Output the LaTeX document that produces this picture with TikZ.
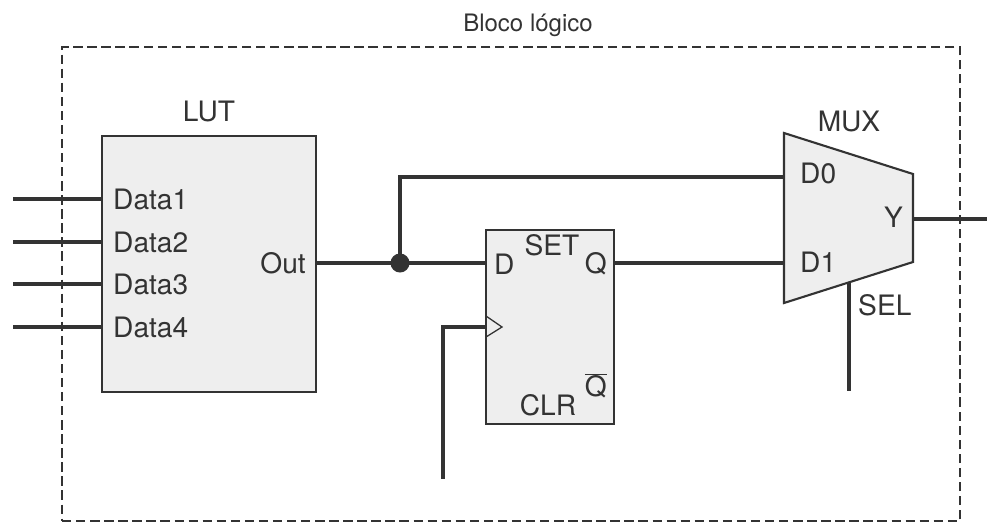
\documentclass[tikz,border=0pt]{standalone}
\usepackage{fontspec}
\setmainfont{TeX Gyre Heros}
\definecolor{inkgray}{HTML}{333333}
\definecolor{boxgray}{HTML}{EEEEEE}
\usetikzlibrary{calc}

\begin{document}
\begin{tikzpicture}[x=0.03cm, y=-0.03cm, font=\fontsize{24}{26}\selectfont, text=inkgray]
        \tikzstyle{every node}=[inner sep=0pt]
        \tikzstyle{block}=[draw=inkgray, fill=boxgray, line width=1.8pt, anchor=north west, minimum width=0pt]
        \tikzstyle{wire}=[draw=inkgray, line width=2.8pt]
        \useasboundingbox (0,0) rectangle (987,523);
        \node [draw=inkgray, dash pattern=on 8pt off 4pt, line width=1.3pt, anchor=north west, minimum width=898*0.03cm, minimum height=474*0.03cm] (bloco) at (61.3,46.3) {};
        \node [font=\fontsize{20.5}{24}\selectfont] (titulo) at (528,25) {Bloco lógico};
        % LUT
        \node [block, minimum width=214*0.03cm, minimum height=256*0.03cm] (lut) at (101.3,135.3) {};
        \node (lutname) at (209,111) {LUT};
        \node [anchor=west] (data1) at (113,199) {Data1};
        \node [anchor=west] (data2) at (113,242) {Data2};
        \node [anchor=west] (data3) at (113,284) {Data3};
        \node [anchor=west] (data4) at (113,327) {Data4};
        \node [anchor=east] (out) at (306,263) {Out};
        % flip-flop
        \node [block, minimum width=128*0.03cm, minimum height=194*0.03cm] (ff) at (485.3,229.3) {};
        \node [anchor=west] (d) at (494,264) {D};
        \node (set) at (552,245) {SET};
        \node [anchor=east] (q) at (607,264) {Q};
        \node (clr) at (548,405) {CLR};
        \node [anchor=east] (qbar) at (607,386) {$\overline{\mbox{Q}}$};
        \draw [draw=inkgray, line width=1.1pt] (486,316) -- (502,327) -- (486,337);
        % MUX
        \coordinate (muxa) at (784,133);
        \coordinate (muxb) at (913,174);
        \coordinate (muxc) at (913,262);
        \coordinate (muxd) at (784,303);
        \draw [draw=inkgray, fill=boxgray, line width=1.8pt] (muxa) -- (muxb) -- (muxc) -- (muxd) -- cycle;
        \node (muxname) at (849,121) {MUX};
        \node [anchor=west] (d0) at (800,173) {D0};
        \node [anchor=west] (d1) at (800,262) {D1};
        \node [anchor=east] (y) at (903,217) {Y};
        \node [anchor=west] (sel) at (858,305) {SEL};
        % wires
        \coordinate (in1) at (13,199);
        \coordinate (in2) at (13,242);
        \coordinate (in3) at (13,284);
        \coordinate (in4) at (13,327);
        \foreach \i in {1,...,4} {
            \draw [wire] (in\i) -- (in\i -| lut.west);
        }
        \coordinate (lutout) at (316,263);
        \coordinate (ffd) at (486,263);
        \coordinate (ffq) at (614,263);
        \coordinate (muxd0) at (784,177);
        \coordinate (muxd1) at (784,263);
        \coordinate (muxy) at (913,219);
        \coordinate (saida) at (987,219);
        \coordinate (muxsel) at (849,283);
        \coordinate (selend) at (849,391);
        \coordinate (ffclk) at (485,327);
        \coordinate (clkend) at (443,479);
        \coordinate (juncao) at (400,263);
        \draw [wire] (lutout) -- (ffd);
        \draw [wire] (juncao) |- (muxd0);
        \draw [wire] (ffq) -- (muxd1);
        \draw [wire] (muxy) -- (saida);
        \draw [wire] (muxsel) -- (selend);
        \draw [wire] (ffclk) -| (clkend);
        \fill [inkgray] (juncao) circle (9.5);
    \end{tikzpicture}
\end{document}
